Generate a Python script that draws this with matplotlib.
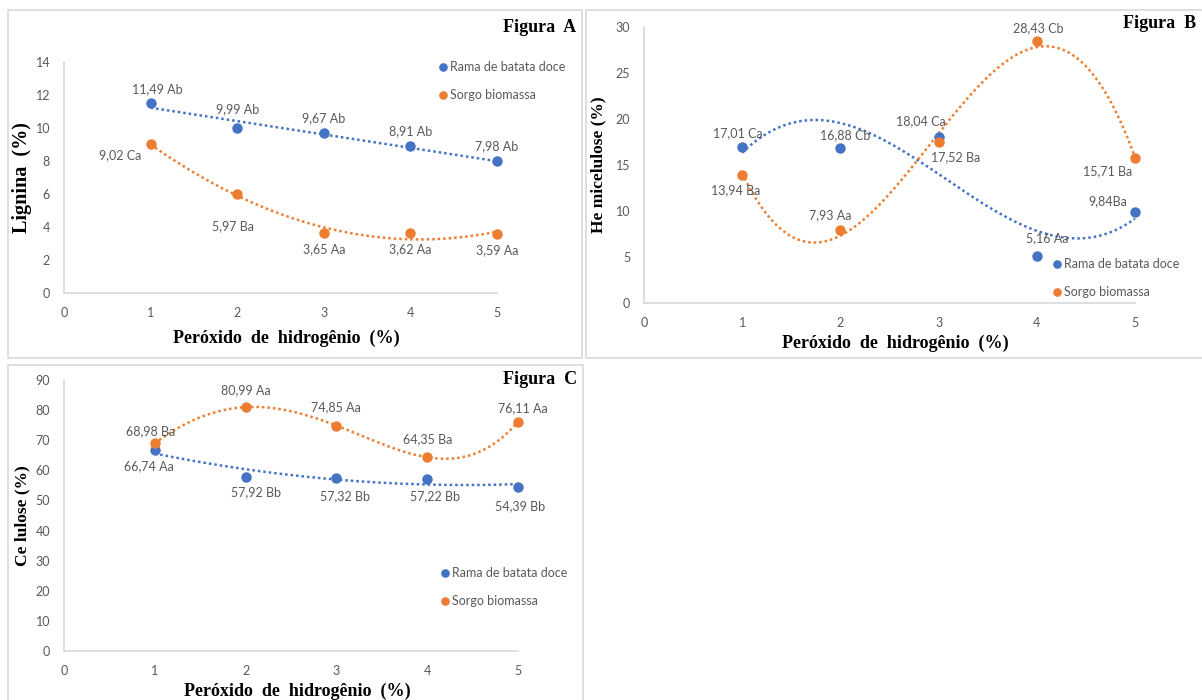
import matplotlib.pyplot as plt
import matplotlib.patches as patches
import numpy as np

# data
peroxido = [1, 2, 3, 4, 5]
series_names = ["Rama de batata doce", "Sorgo biomassa"]

lignina_rama = [11.49, 9.99, 9.67, 8.91, 7.98]
lignina_sorgo = [9.02, 5.97, 3.65, 3.62, 3.59]
lignina_rama_lbl = ["11,49 Ab", "9,99 Ab", "9,67 Ab", "8,91 Ab", "7,98 Ab"]
lignina_sorgo_lbl = ["9,02 Ca", "5,97 Ba", "3,65 Aa", "3,62 Aa", "3,59 Aa"]

hemi_rama = [17.01, 16.88, 18.04, 5.16, 9.84]
hemi_sorgo = [13.94, 7.93, 17.52, 28.43, 15.71]
hemi_rama_lbl = ["17,01 Ca", "16,88 Cb", "18,04 Ca", "5,16 Aa", "9,84Ba"]
hemi_sorgo_lbl = ["13,94 Ba", "7,93 Aa", "17,52 Ba", "28,43 Cb", "15,71 Ba"]

celu_rama = [66.74, 57.92, 57.32, 57.22, 54.39]
celu_sorgo = [68.98, 80.99, 74.85, 64.35, 76.11]
celu_rama_lbl = ["66,74 Aa", "57,92 Bb", "57,32 Bb", "57,22 Bb", "54,39 Bb"]
celu_sorgo_lbl = ["68,98 Ba", "80,99 Aa", "74,85 Aa", "64,35 Ba", "76,11 Aa"]

BLUE = "#4472C4"
ORANGE = "#ED7D31"
GRAY_TXT = "#595959"
GRID = "#D9D9D9"
SANS = "Lato"
SERIF = "Liberation Serif"

W, H = 1202, 700
fig = plt.figure(figsize=(W / 100, H / 100), dpi=100)


def px_axes(x0, y0, x1, y1):
    # pixel box (left, top, right, bottom) -> figure axes
    return fig.add_axes([x0 / W, 1 - y1 / H, (x1 - x0) / W, (y1 - y0) / H])


def frame(x0, y0, x1, y1):
    r = patches.Rectangle((x0 / W, 1 - y1 / H), (x1 - x0) / W, (y1 - y0) / H,
                          transform=fig.transFigure, fill=False,
                          edgecolor=GRID, lw=1.2)
    fig.patches.append(r)


def panel(ax, ymax, ystep, ys, labels, offsets, degs, ylabel, title, title_xy,
          leg_xy, xlabel_y, ylabel_x, ylabel_size=12.5):
    x = np.array(peroxido)
    xs = np.linspace(1, 5, 200)
    for y, lbl, off, deg, col, name in zip(ys, labels, offsets, degs,
                                           [BLUE, ORANGE], series_names):
        # excel style polynomial trendline
        coef = np.polyfit(x, y, deg)
        ax.plot(xs, np.polyval(coef, xs), color=col, lw=1.8,
                linestyle=(0, (1, 1.2)), zorder=2, clip_on=False)
        ax.plot(x, y, "o", color=col, ms=6.5, zorder=3, label=name,
                clip_on=False)
        for xi, yi, t, (dx, dy) in zip(x, y, lbl, off):
            ax.annotate(t, (xi, yi), xytext=(dx, dy), textcoords="offset pixels",
                        ha="center", va="center", fontsize=9, color=GRAY_TXT,
                        family=SANS, zorder=4)
    ax.set_xlim(0, 5)
    ax.set_ylim(0, ymax)
    ax.set_xticks(range(0, 6))
    ax.set_yticks(np.arange(0, ymax + 0.1, ystep))
    ax.tick_params(length=0, labelsize=9, labelcolor=GRAY_TXT, pad=10)
    for t in ax.get_xticklabels() + ax.get_yticklabels():
        t.set_family(SANS)
    for s in ["top", "right"]:
        ax.spines[s].set_visible(False)
    for s in ["left", "bottom"]:
        ax.spines[s].set_color(GRID)
        ax.spines[s].set_linewidth(1.2)
    ax.patch.set_alpha(0)
    fig.text(title_xy[0] / W, 1 - title_xy[1] / H, title, family=SERIF,
             weight="bold", fontsize=13, ha="center", va="center")
    bb = ax.get_position()
    fig.text((bb.x0 + bb.x1) / 2 + 0.005, 1 - xlabel_y / H,
             "Peróxido  de  hidrogênio  (%)", family=SERIF, weight="bold",
             fontsize=13, ha="center", va="center")
    fig.text(ylabel_x / W, (bb.y0 + bb.y1) / 2, ylabel, family=SERIF,
             weight="bold", fontsize=ylabel_size, ha="center", va="center",
             rotation=90)
    leg = ax.legend(loc="upper left", bbox_to_anchor=(leg_xy[0] / W, 1 - leg_xy[1] / H),
                    bbox_transform=fig.transFigure, frameon=False,
                    handletextpad=0.0, handlelength=1.2, labelspacing=1.3,
                    borderpad=0, borderaxespad=0, markerscale=0.8,
                    prop={"family": SANS, "size": 9})
    for t in leg.get_texts():
        t.set_color(GRAY_TXT)


# frames
frame(8, 10, 582, 358)
frame(586, 10, 1210, 358)
frame(8, 365, 583, 710)

# Figura A
axA = px_axes(64, 62, 497, 293)
panel(axA, 14, 2, [lignina_rama, lignina_sorgo],
      [lignina_rama_lbl, lignina_sorgo_lbl],
      [[(7, 14), (0, 19), (0, 15), (0, 15), (0, 15)],
       [(-30, -11), (-4, -32), (0, -16), (0, -16), (0, -16)]],
      [1, 2], "Lignina  (%)", "Figura  A", (540, 28), (435, 61), 338, 22,
      ylabel_size=14.5)

# Figura B
axB = px_axes(644, 27, 1135, 303)
panel(axB, 30, 5, [hemi_rama, hemi_sorgo],
      [hemi_rama_lbl, hemi_sorgo_lbl],
      [[(-4, 13), (5, 13), (-18, 16), (10, 17), (-27, 11)],
       [(-7, -15), (-10, 15), (17, -15), (1, 13), (-27, -13)]],
      [3, 3], "He micelulose (%)", "Figura  B", (1160, 24), (1049, 258), 343,
      598)

# Figura C
axC = px_axes(64, 380, 518, 651)
panel(axC, 90, 10, [celu_rama, celu_sorgo],
      [celu_rama_lbl, celu_sorgo_lbl],
      [[(-6, -16), (10, -16), (9, -18), (8, -17), (2, -19)],
       [(-4, 12), (0, 17), (0, 18), (0, 18), (5, 14)]],
      [2, 4], "Ce lulose (%)", "Figura  C", (540, 380), (437, 567), 691, 22)

plt.savefig("out.png", dpi=100)
